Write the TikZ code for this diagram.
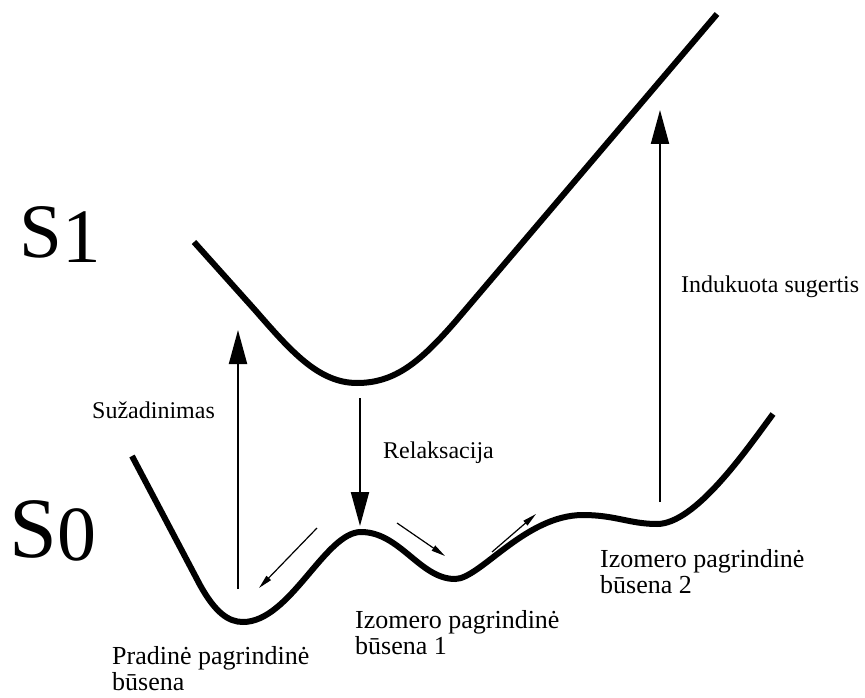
\documentclass[tikz,border=0pt]{standalone}
\usepackage{fontspec}
\setmainfont{Liberation Serif}
\usetikzlibrary{arrows.meta}
\begin{document}
\begin{tikzpicture}[x=1pt,y=-1pt,
  curve/.style={line width=6pt},
  bigarrow/.style={line width=2pt, -{Triangle[length=34pt,width=18pt]}},
  smallarrow/.style={line width=1.2pt, -{Triangle[length=14pt,width=6pt]}},
  label/.style={anchor=base west, inner sep=0pt, font=\fontsize{24}{24}\selectfont},
  twoline/.style={anchor=base west, inner sep=0pt, align=left, font=\fontsize{26}{25.5}\selectfont}]
\useasboundingbox (0,0) rectangle (865,698);
\node [anchor=base west, inner sep=0pt, font=\fontsize{77}{77}\selectfont] (s1) at (19,257) {S\raisebox{-5pt}{1}};
\node [anchor=base west, inner sep=0pt, font=\fontsize{86}{86}\selectfont] (s0) at (9,557) {S\fontsize{78}{78}\selectfont\raisebox{-3pt}{0}};
\draw [curve] (194,242) -- (255,310) .. controls (290,350) and (318,383) .. (357,383)
  .. controls (395,383) and (420,362) .. (455,322) -- (717,14);
\draw [curve] (132,456) -- (200,585) .. controls (215,612) and (228,622) .. (243,622)
  .. controls (290,622) and (325,532) .. (361,532)
  .. controls (400,532) and (420,579) .. (455,579)
  .. controls (480,579) and (525,515) .. (583,515)
  .. controls (615,515) and (630,524) .. (657,524)
  .. controls (695,524) and (745,452) .. (773,414);
\coordinate (exc-a) at (238,589);
\coordinate (exc-b) at (238,330);
\coordinate (rel-a) at (360,398);
\coordinate (rel-b) at (360,526);
\coordinate (abs-a) at (660,502);
\coordinate (abs-b) at (660,110);
\coordinate (dn1-a) at (317,528);
\coordinate (dn1-b) at (259,588);
\coordinate (dn2-a) at (397,523);
\coordinate (dn2-b) at (445,556);
\coordinate (up-a) at (492,552);
\coordinate (up-b) at (536,514);
\draw [bigarrow] (exc-a) -- (exc-b);
\draw [bigarrow] (rel-a) -- (rel-b);
\draw [bigarrow] (abs-a) -- (abs-b);
\draw [smallarrow] (dn1-a) -- (dn1-b);
\draw [smallarrow] (dn2-a) -- (dn2-b);
\draw [smallarrow] (up-a) -- (up-b);
\node [label] (suz) at (92,418) {Sužadinimas};
\node [label] (rel) at (383,458) {Relaksacija};
\node [label] (ind) at (681,292) {Indukuota sugertis};
\node [twoline] (prad) at (112,690) {Pradinė pagrindinė\\būsena};
\node [twoline] (izo1) at (355,654) {Izomero pagrindinė\\būsena 1};
\node [twoline] (izo2) at (600,593) {Izomero pagrindinė\\būsena 2};
\end{tikzpicture}
\end{document}
